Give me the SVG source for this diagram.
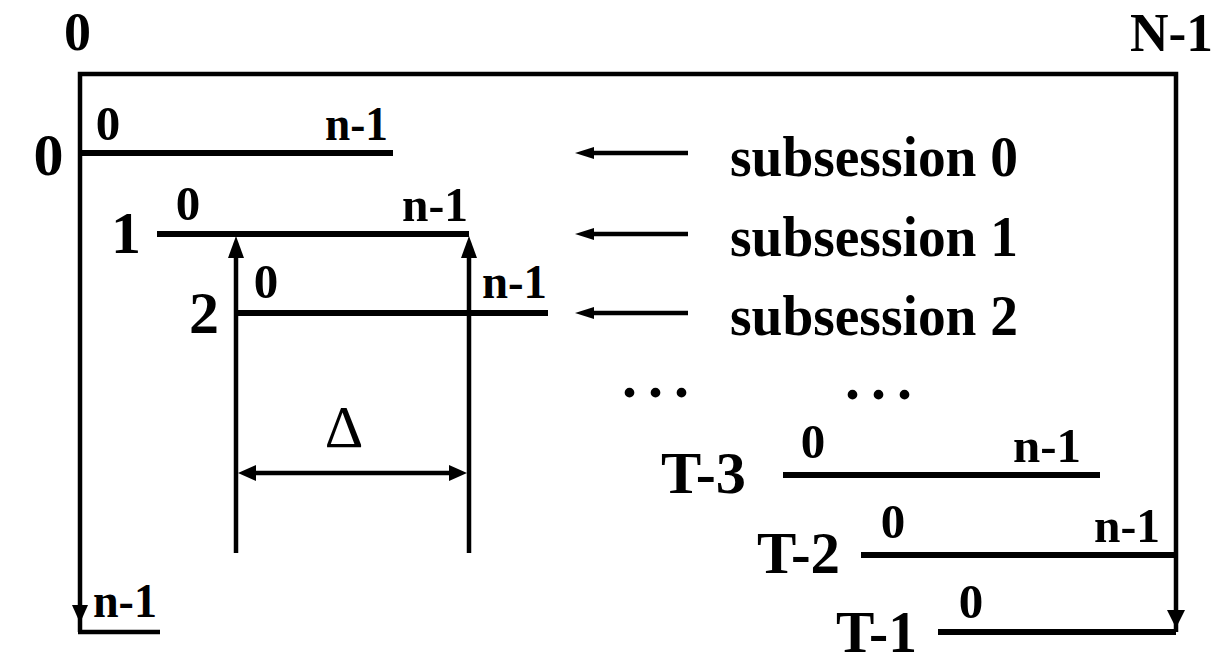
<svg xmlns="http://www.w3.org/2000/svg" width="1229" height="666" viewBox="0 0 1229 666">
<style>
text{font-family:"Liberation Serif","Times New Roman",serif;font-weight:bold;fill:#000}
.big{font-size:60px}
.top{font-size:54px}
.sm{font-size:49px}
.leg{font-size:57px}
.mid{text-anchor:middle}
.ln{stroke:#000;stroke-width:6;fill:none;stroke-linecap:butt}
.th{stroke:#000;stroke-width:4.5;fill:none}
.ah{fill:#000;stroke:none}
</style>
<rect width="1229" height="666" fill="#fff"/>
<g id="axis-labels">
<text class="top mid" x="77.5" y="50">0</text>
<text class="top" x="1130" y="51" textLength="83" lengthAdjust="spacingAndGlyphs">N-1</text>
</g>
<g id="connectors">
<path class="th" d="M80,632 V74 H1176 V632"/>
<path class="th" d="M78,632 H160"/>
<polygon class="ah" points="80,623 72,605 88,605"/>
<polygon class="ah" points="1176,628 1167,610 1185,610"/>
<path class="th" d="M688,153 H590"/>
<polygon class="ah" points="575,153 594,147 594,159"/>
<path class="th" d="M688,234 H590"/>
<polygon class="ah" points="575,234 594,228 594,240"/>
<path class="th" d="M688,313 H590"/>
<polygon class="ah" points="575,313 594,307 594,319"/>
<path class="th" d="M236,553 V250"/>
<polygon class="ah" points="236,236 228,258 244,258"/>
<path class="th" d="M469,553 V250"/>
<polygon class="ah" points="469,236 461,258 477,258"/>
<path class="th" d="M250,473 H455"/>
<polygon class="ah" points="238,473 256,465 256,481"/>
<polygon class="ah" points="467,473 449,465 449,481"/>
</g>
<g id="subsession-0">
<text class="big mid" x="48.5" y="175">0</text>
<path class="ln" d="M80,153 H393"/>
<text class="sm mid" x="108" y="140">0</text>
<text class="sm" x="325" y="140" textLength="63" lengthAdjust="spacingAndGlyphs">n-1</text>
</g>
<g id="subsession-1">
<text class="big mid" x="126" y="253">1</text>
<path class="ln" d="M157,234 H469"/>
<text class="sm mid" x="188" y="220">0</text>
<text class="sm" x="402" y="221" textLength="66" lengthAdjust="spacingAndGlyphs">n-1</text>
</g>
<g id="subsession-2">
<text class="big mid" x="204" y="333">2</text>
<path class="ln" d="M236,313 H548"/>
<text class="sm mid" x="266" y="298">0</text>
<text class="sm" x="482" y="298" textLength="65" lengthAdjust="spacingAndGlyphs">n-1</text>
</g>
<g id="delta">
<text class="big mid" x="344" y="447" style="font-weight:normal">Δ</text>
</g>
<g id="legend">
<text class="leg" x="730" y="176" textLength="288" lengthAdjust="spacingAndGlyphs">subsession 0</text>
<text class="leg" x="730" y="256" textLength="288" lengthAdjust="spacingAndGlyphs">subsession 1</text>
<text class="leg" x="730" y="335" textLength="288" lengthAdjust="spacingAndGlyphs">subsession 2</text>
</g>
<g id="ellipsis">
<text class="big" x="622" y="397" letter-spacing="11">...</text>
<text class="big" x="845" y="399" letter-spacing="11">...</text>
</g>
<g id="subsession-T-3">
<text class="big" x="661" y="493" textLength="85" lengthAdjust="spacingAndGlyphs">T-3</text>
<path class="ln" d="M783,475 H1100"/>
<text class="sm mid" x="813" y="458">0</text>
<text class="sm" x="1013" y="462" textLength="68" lengthAdjust="spacingAndGlyphs">n-1</text>
</g>
<g id="subsession-T-2">
<text class="big" x="757" y="573" textLength="83" lengthAdjust="spacingAndGlyphs">T-2</text>
<path class="ln" d="M861,555 H1176"/>
<text class="sm mid" x="893" y="538">0</text>
<text class="sm" x="1094" y="542" textLength="66" lengthAdjust="spacingAndGlyphs">n-1</text>
</g>
<g id="subsession-T-1">
<text class="big" x="836" y="652" textLength="81" lengthAdjust="spacingAndGlyphs">T-1</text>
<path class="ln" d="M938,632 H1176"/>
<text class="sm mid" x="971" y="618">0</text>
</g>
<g id="end-label">
<text class="sm" x="93" y="617" textLength="64" lengthAdjust="spacingAndGlyphs">n-1</text>
</g>
</svg>
